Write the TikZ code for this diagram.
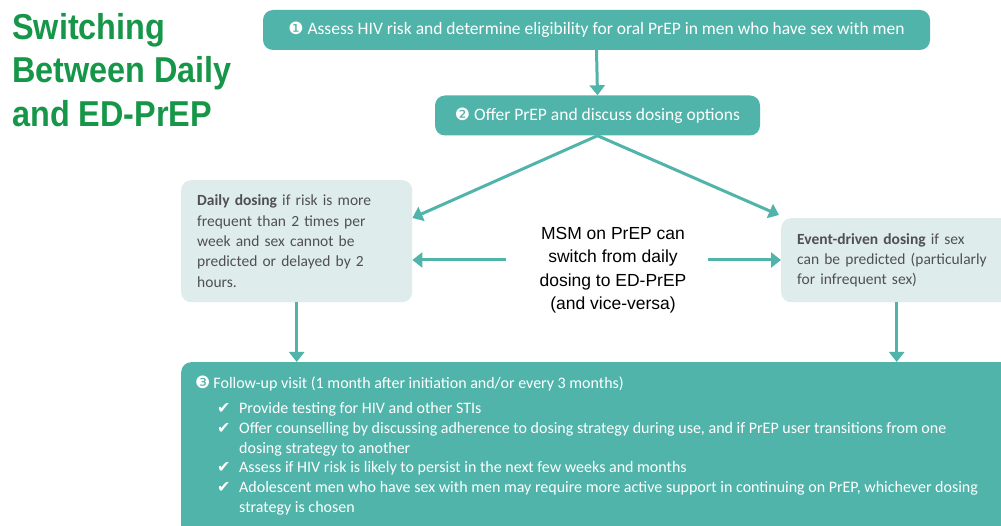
\documentclass[tikz,border=0pt]{standalone}
\usepackage{fontspec}
\setmainfont{Carlito}
\newfontfamily\titlefont[FakeStretch=0.9]{Liberation Sans}
\newfontfamily\arialfont{Liberation Sans}
\newfontfamily\symfont{DejaVu Sans}
\usetikzlibrary{arrows.meta}
\usetikzlibrary{positioning}
\definecolor{tealbox}{RGB}{80,180,170}
\definecolor{palebox}{RGB}{222,236,235}
\definecolor{titlegreen}{RGB}{22,150,72}
\definecolor{greytext}{RGB}{80,80,80}
\newcommand{\tick}{\makebox[44pt][l]{\hspace*{22pt}{\symfont\fontsize{16}{16}\selectfont ✔}}}
\newcommand{\cont}{\hspace*{44pt}}
\newcommand{\stepnum}[1]{{\symfont\fontsize{17}{17}\selectfont #1}}
\begin{document}
\begin{tikzpicture}[x=1pt,y=-1pt,
  darkbox/.style={fill=tealbox,rounded corners=10pt,text=white,font=\fontsize{17.5}{20}\selectfont},
  lightbox/.style={fill=palebox,rounded corners=10pt,text=greytext,align=left,inner xsep=16pt,text width=199pt,font=\fontsize{15.5}{20.3}\selectfont},
  arr/.style={draw=tealbox,line width=3pt,-{Triangle[width=15pt,length=10pt]}}]
\clip (0,0) rectangle (1001,526);
\fill[white] (0,0) rectangle (1001,526);
\node[anchor=north west,inner sep=0pt,text=titlegreen,align=left,font=\titlefont\bfseries\fontsize{36}{43.5}\selectfont] (title) at (12,13) {Switching\\Between Daily\\and ED-PrEP};
\node[darkbox,minimum width=667pt,minimum height=40pt] (box1) at (596.5,30) {\stepnum{❶} Assess HIV risk and determine eligibility for oral PrEP in men who have sex with men};
\node[darkbox,minimum width=325pt,minimum height=40pt] (box2) at (597.5,115.5) {\stepnum{❷} Offer PrEP and discuss dosing options};
\node[lightbox,anchor=north west,minimum height=122pt] (daily) at (181,180) {\textbf{Daily dosing} if risk is more\\frequent than 2 times per\\week and sex cannot be\\predicted or delayed by 2\\hours.};
\node[lightbox,anchor=north west,minimum height=84pt] (event) at (781,218) {\textbf{Event-driven dosing} if sex\\can be predicted (particularly\\for infrequent sex)};
\node[align=center,font=\arialfont\fontsize{17.5}{23.5}\selectfont] (msm) at (613,270) {MSM on PrEP can\\switch from daily\\dosing to ED-PrEP\\(and vice-versa)};
\node[fill=tealbox,rounded corners=10pt,anchor=north west,minimum width=840pt,minimum height=180pt] (follow) at (181,362) {};
\node[anchor=north west,inner sep=0pt,text=white,align=left,font=\fontsize{16}{19.8}\selectfont] (followtxt) at (195,376) {\stepnum{❸}\hspace{3pt}Follow-up visit (1 month after initiation and/or every 3 months)\\[5pt]
\tick Provide testing for HIV and other STIs\\
\tick Offer counselling by discussing adherence to dosing strategy during use, and if PrEP user transitions from one\\
\cont dosing strategy to another\\
\tick Assess if HIV risk is likely to persist in the next few weeks and months\\
\tick Adolescent men who have sex with men may require more active support in continuing on PrEP, whichever dosing\\
\cont strategy is chosen};
\draw[arr] (box1.south)--(box2.north);
\draw[arr] (box2.south)--([yshift=-38pt]daily.north east);
\draw[arr] (box2.south)--([shift={(-2pt,3pt)}]event.north west);
\draw[arr] ([shift={(-30pt,10pt)}]msm.west)--([yshift=10pt]msm.west -| daily.east);
\draw[arr] ([shift={(18pt,10pt)}]msm.east)--([yshift=10pt]msm.east -| event.west);
\draw[arr] (daily.south)--(daily.south |- follow.north);
\draw[arr] (event.south)--(event.south |- follow.north);
\end{tikzpicture}
\end{document}
